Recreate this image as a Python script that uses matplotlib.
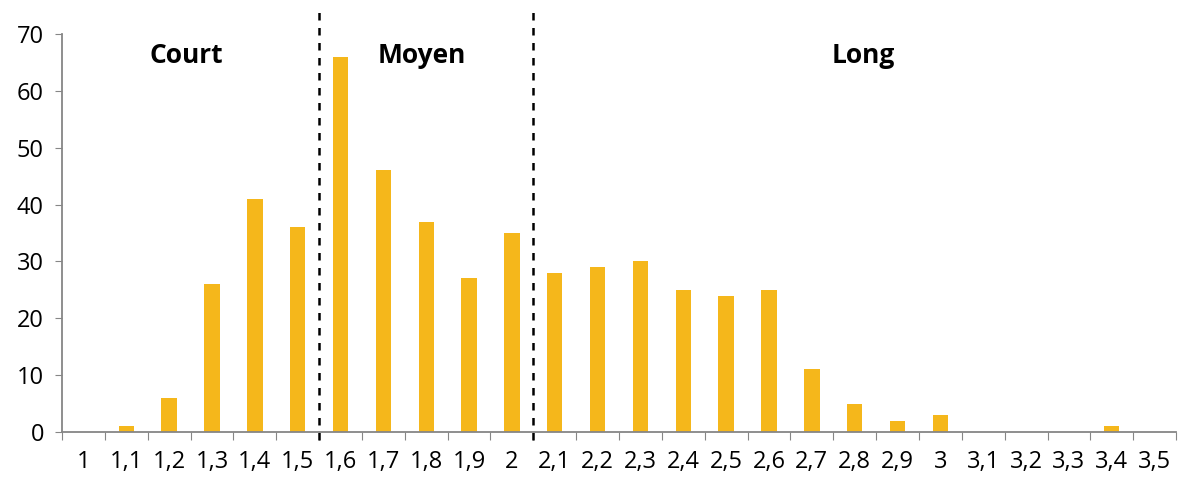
import numpy as np
from matplotlib import pyplot as plt

plt.rc("font", family=["Open Sans", "DejaVu Sans"])

labels = ["1", "1,1", "1,2", "1,3", "1,4", "1,5", "1,6", "1,7", "1,8", "1,9",
          "2", "2,1", "2,2", "2,3", "2,4", "2,5", "2,6", "2,7", "2,8", "2,9",
          "3", "3,1", "3,2", "3,3", "3,4", "3,5"]
counts = [0, 1, 6, 26, 41, 36, 66, 46, 37, 27,
          35, 28, 29, 30, 25, 24, 25, 11, 5, 2,
          3, 0, 0, 0, 1, 0]
classes = ["Court", "Moyen", "Long"]
class_breaks = ["1,5", "2"]  # dashed line drawn right after these categories

gray = "#868686"
fig = plt.figure(figsize=(11.79, 4.79), dpi=100)
ax = fig.add_axes([0.0526, 0.0981, 0.9449, 0.831])

x = np.arange(len(labels))
ax.bar(x, counts, width=0.36, color="#F5B71B", zorder=2)

ax.set_xlim(-0.5, len(labels) - 0.5)
ax.set_ylim(0, 70)
ax.set_yticks(range(0, 71, 10))
ax.tick_params(axis="y", labelsize=17, length=5, color=gray, pad=8)

# ticks at category boundaries, labels at category centres
ax.set_xticks(np.arange(len(labels) + 1) - 0.5)
ax.set_xticklabels([])
ax.set_xticks(x, minor=True)
ax.set_xticklabels(labels, minor=True, fontsize=17)
ax.tick_params(axis="x", which="major", length=6, color=gray)
ax.tick_params(axis="x", which="minor", length=0, pad=13)

for s in ["top", "right"]:
    ax.spines[s].set_visible(False)
for s in ["left", "bottom"]:
    ax.spines[s].set_color(gray)
    ax.spines[s].set_linewidth(1.3)

for b in class_breaks:
    xb = labels.index(b) + 0.5
    ax.plot([xb, xb], [-1.4, 74.5], ls=(0, (3, 3)), color="black", lw=1.8,
            clip_on=False, zorder=3)

for name, xc in zip(classes, [2.4, 7.9, 18.2]):
    ax.text(xc, 66.2, name, ha="center", va="center", fontsize=19,
            fontweight="bold")

fig.savefig("out.png", dpi=100)
